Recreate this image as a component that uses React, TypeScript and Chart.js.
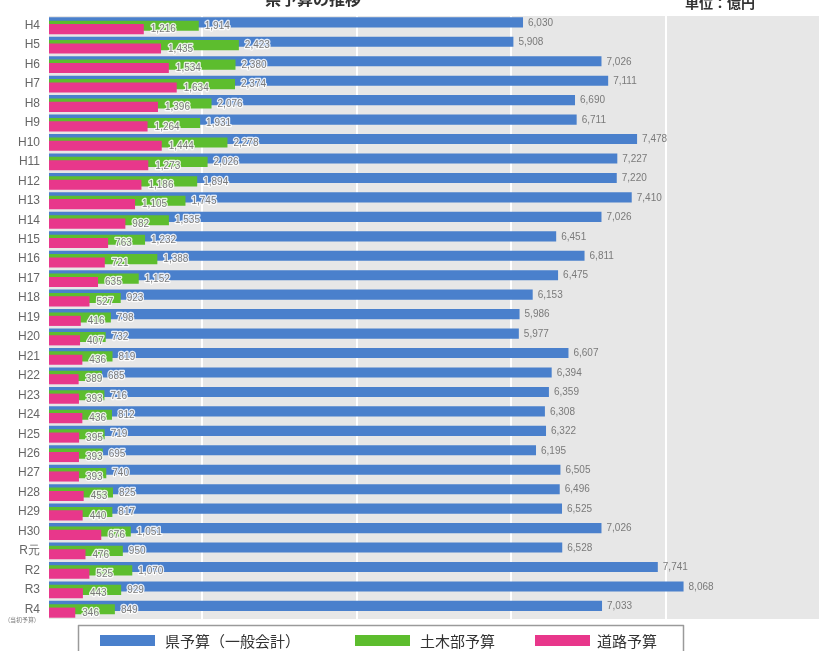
import { useEffect, useRef } from 'react';
import { Chart, registerables } from 'chart.js';

Chart.register(...registerables);

const categories = ['H4','H5','H6','H7','H8','H9','H10','H11','H12','H13','H14','H15','H16','H17','H18','H19','H20','H21','H22','H23','H24','H25','H26','H27','H28','H29','H30','R元','R2','R3','R4'];
const prefBudget = [6030,5908,7026,7111,6690,6711,7478,7227,7220,7410,7026,6451,6811,6475,6153,5986,5977,6607,6394,6359,6308,6322,6195,6505,6496,6525,7026,6528,7741,8068,7033];
const civilBudget = [1914,2423,2380,2374,2076,1931,2278,2026,1894,1745,1535,1232,1388,1152,923,798,732,819,685,716,812,719,695,740,825,817,1051,950,1070,929,849];
const roadBudget = [1216,1435,1534,1634,1396,1264,1444,1273,1186,1105,982,763,721,635,527,416,407,436,389,393,436,395,393,393,453,440,676,476,525,443,346];
const seriesNames = ['県予算（一般会計）', '土木部予算', '道路予算'];
const seriesColors = ['#4a80cc', '#5dbd2e', '#e8378b'];
const titleText = '県予算の推移';
const unitText = '単位：億円';
const noteText = '(当初予算)';
const noteCategory = 'R4';

export default function App() {
  const ref = useRef<HTMLCanvasElement>(null);

  useEffect(() => {
    const canvas = ref.current;
    if (!canvas) return;
    const seriesData = [prefBudget, civilBudget, roadBudget];
    const fmt = (v: number) => v.toLocaleString('en-US');
    const cjk = '"Noto Sans CJK JP", "Noto Sans", sans-serif';
    const num = '"Liberation Sans Narrow", "Liberation Sans", Arial, sans-serif';
    const labelGap = [5, 6, 7];

    const plugin = {
      id: 'custom',
      beforeDraw(chart: any) {
        const { ctx, chartArea: a } = chart;
        ctx.save();
        ctx.fillStyle = '#e7e7e7';
        ctx.fillRect(a.left, a.top, a.right - a.left, a.bottom - a.top);
        ctx.restore();
      },
      beforeDatasetsDraw(chart: any) {
        const metas = chart.getSortedVisibleDatasetMetas();
        for (const m of metas) m.controller.draw();
        return false;
      },
      afterDraw(chart: any) {
        const { ctx } = chart;
        ctx.save();
        // value labels
        ctx.font = '10px ' + num;
        ctx.textAlign = 'left';
        ctx.textBaseline = 'middle';
        ctx.lineJoin = 'round';
        seriesData.forEach((arr, d) => {
          const meta = chart.getDatasetMeta(d);
          meta.data.forEach((el: any, i: number) => {
            const t = fmt(arr[i]);
            const x = el.x + labelGap[d];
            const y = el.y + 0.5;
            if (d > 0) {
              ctx.strokeStyle = 'rgba(255,255,255,0.85)';
              ctx.lineWidth = 2.5;
              ctx.strokeText(t, x, y);
            }
            ctx.fillStyle = '#7a7a7a';
            ctx.fillText(t, x, y);
          });
        });
        // note under R4
        const yScale = chart.scales.y;
        const idx = categories.indexOf(noteCategory);
        const ny = yScale.getPixelForValue(idx);
        ctx.font = '6px ' + cjk;
        ctx.fillStyle = '#777';
        ctx.textAlign = 'center';
        ctx.fillText(noteText, 22, ny + 10);
        // title (cut at top)
        ctx.font = 'bold 16px ' + cjk;
        ctx.fillStyle = '#333';
        ctx.textAlign = 'center';
        ctx.textBaseline = 'alphabetic';
        ctx.fillText(titleText, 313, 5);
        // unit
        ctx.font = 'bold 14px ' + cjk;
        ctx.textBaseline = 'middle';
        ctx.fillText(unitText, 720, 3);
        // legend
        ctx.strokeStyle = '#9a9a9a';
        ctx.lineWidth = 1.5;
        ctx.strokeRect(78.5, 625.5, 605, 40);
        const items = [
          { sx: 100, tx: 165 },
          { sx: 355, tx: 420 },
          { sx: 535, tx: 597 },
        ];
        ctx.font = '15px ' + cjk;
        ctx.textAlign = 'left';
        items.forEach((it, k) => {
          ctx.fillStyle = seriesColors[k];
          ctx.fillRect(it.sx, 635, 55, 11);
          ctx.fillStyle = '#333';
          ctx.fillText(seriesNames[k], it.tx, 641);
        });
        ctx.restore();
      },
    };

    const chart = new Chart(canvas, {
      type: 'bar',
      data: {
        labels: categories,
        datasets: seriesData.map((arr, k) => ({
          label: seriesNames[k],
          data: arr,
          backgroundColor: seriesColors[k],
          borderWidth: 0,
          categoryPercentage: 0.52,
          barPercentage: 3.0,
        })),
      },
      options: {
        indexAxis: 'y',
        responsive: false,
        maintainAspectRatio: false,
        animation: false,
        devicePixelRatio: 1,
        layout: { padding: { top: 16, right: 8, bottom: 32, left: 0 } },
        plugins: {
          legend: { display: false },
          tooltip: { enabled: false },
          title: { display: false },
        },
        scales: {
          x: {
            type: 'linear',
            min: 0,
            max: 9800,
            ticks: { display: false, stepSize: 2000 },
            grid: { color: '#ffffff', lineWidth: 2, drawTicks: false },
            border: { display: false },
            afterFit: (s: any) => { s.height = 0; },
          },
          y: {
            type: 'category',
            grid: { display: false, drawTicks: false },
            border: { display: false },
            ticks: { color: '#666', font: { size: 12, family: 'Liberation Sans, Arial, sans-serif' }, padding: 8, autoSkip: false },
            afterFit: (s: any) => { s.width = 48; },
          },
        },
      },
      plugins: [plugin],
    } as any);

    return () => chart.destroy();
  }, []);

  return (
    <div style={{ position: 'absolute', left: 0, top: 0, width: 828, height: 651, background: '#fff' }}>
      <canvas ref={ref} width={828} height={651} style={{ display: 'block' }} />
    </div>
  );
}
